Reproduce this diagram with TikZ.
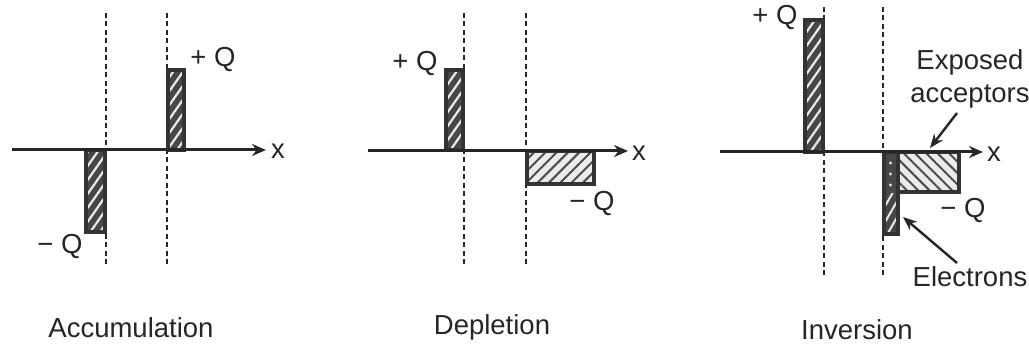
\documentclass[tikz,border=0pt]{standalone}
\usepackage{fontspec}
\setmainfont{Liberation Sans}
\usetikzlibrary{patterns.meta,arrows.meta}
\begin{document}
\begin{tikzpicture}[x=1pt,y=-1pt,
  lbl/.style={font=\fontsize{27.5}{33}\selectfont, text=black!85, inner sep=0pt},
  axis/.style={line width=3pt, black!85, -{Stealth[length=14pt,width=12pt]}},
  guide/.style={line width=2pt, black!85, dash pattern=on 5pt off 3.5pt},
  darkbar/.style={draw=black!80, line width=3.4pt, preaction={fill=black!72},
    pattern={Lines[angle=55,distance=8pt,line width=2.2pt]}, pattern color=white!92!black},
  lightbar/.style={draw=black!80, line width=3.4pt, preaction={fill=white!92!black},
    pattern={Lines[angle=#1,distance=8pt,line width=2pt]}, pattern color=black!70},
  pointer/.style={line width=2.4pt, black!85, -{Stealth[length=14pt,width=11pt]}}
]
\useasboundingbox (0,0) rectangle (1029,347);

% ---------- Accumulation ----------
\draw[guide] (106,13) -- (106,267);
\draw[guide] (167,13) -- (167,267);
\draw[darkbar] (168,70) rectangle (184,150);
\draw[darkbar] (86,150) rectangle (105,232);
\coordinate (a0) at (12,150);
\coordinate (a1) at (266,150);
\draw[axis] (a0) -- (a1);
\node[lbl, anchor=west] (ax) at (271,151) {x};
\node[lbl] (aq1) at (213,60) {+ Q};
\node[lbl] (aq2) at (60,246) {\char"2212\ Q};
\node[lbl] (acap) at (131,328) {Accumulation};

% ---------- Depletion ----------
\draw[guide] (464,13) -- (464,267);
\draw[guide] (526,13) -- (526,267);
\draw[darkbar] (446,70) rectangle (463,150);
\draw[lightbar=45] (527,151) rectangle (594,184);
\coordinate (d0) at (368,151);
\coordinate (d1) at (628,151);
\draw[axis] (d0) -- (d1);
\node[lbl, anchor=west] (dx) at (632,153) {x};
\node[lbl] (dq1) at (415,64) {+ Q};
\node[lbl] (dq2) at (592,203) {\char"2212\ Q};
\node[lbl] (dcap) at (492,327) {Depletion};

% ---------- Inversion ----------
\draw[guide] (824,7) -- (824,277);
\draw[guide] (883,7) -- (883,277);
\draw[darkbar] (805,20) rectangle (823,152);
% electrons column
\fill[black!72] (884,152) rectangle (898,234);
\path[pattern={Lines[angle=60,distance=8pt,line width=2pt]}, pattern color=white!92!black] (884,194) rectangle (898,234);
\foreach \yy in {163,174,185} \fill[white!90!black] (890.5,\yy) circle (1.6pt);
% exposed acceptors
\path[preaction={fill=white!92!black}, pattern={Lines[angle=-45,distance=8pt,line width=2pt]}, pattern color=black!70] (898,152) rectangle (959,192);
\draw[draw=black!80, line width=3.4pt] (884,152) -- (959,152) -- (959,192) -- (898,192) -- (898,234) -- (884,234) -- cycle;
\draw[black!80, line width=3.4pt] (898,152) -- (898,192);
\coordinate (i0) at (720,152);
\coordinate (i1) at (983,152);
\draw[axis] (i0) -- (i1);
\node[lbl, anchor=west] (ix) at (987,154) {x};
\node[lbl] (iq1) at (775,18) {+ Q};
\node[lbl] (iq2) at (963,210) {\char"2212\ Q};
\node[lbl, align=center] (iexp) at (970,79) {Exposed\\acceptors};
\node[lbl] (iel) at (970,277) {Electrons};
\node[lbl] (icap) at (857,330) {Inversion};
\coordinate (tacc) at (930,148);
\coordinate (tel) at (903,217);
\draw[pointer] (957,113) -- (tacc);
\draw[pointer] (957,263) -- (tel);
\end{tikzpicture}
\end{document}
